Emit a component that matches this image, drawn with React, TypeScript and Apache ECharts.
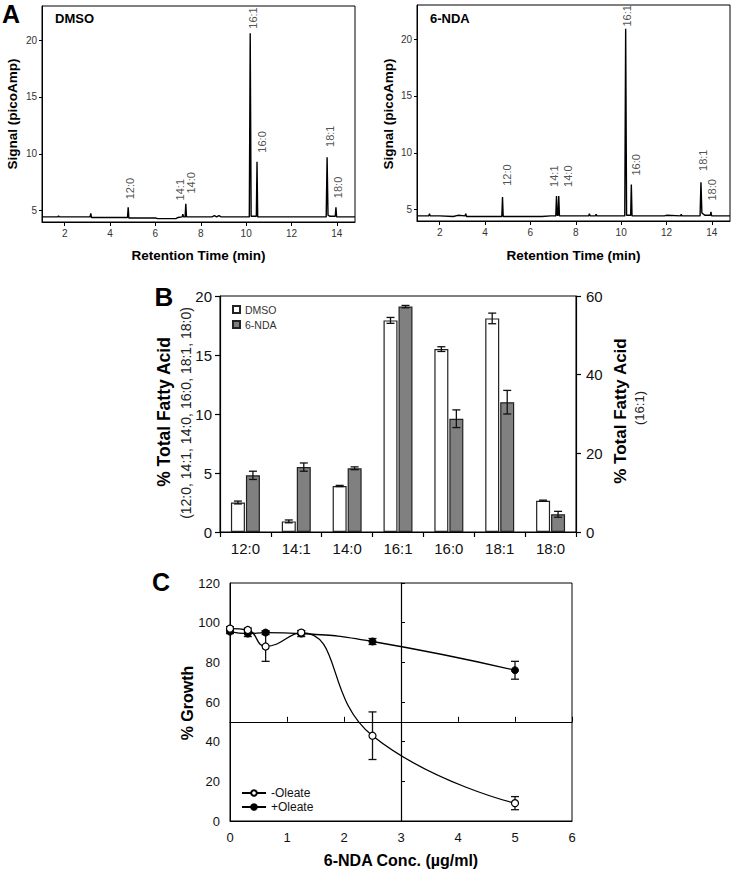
import React, { useEffect, useRef } from 'react';
import * as echarts from 'echarts';

const FONT = '"Liberation Sans", Arial, Helvetica, sans-serif';

// ---------- Panel A: GC chromatograms [retention time (min), signal (picoAmp)] ----------
const dmsoTrace: number[][] = [
  [1.0, 4.45], [1.7, 4.45], [1.73, 4.55], [1.76, 4.45], [3.12, 4.45], [3.15, 4.75], [3.18, 4.4],
  [4.77, 4.4], [4.8, 5.3], [4.83, 4.35], [6.0, 4.35], [6.1, 4.3], [6.9, 4.3], [7.0, 4.4],
  [7.18, 4.45], [7.21, 4.7], [7.24, 4.45], [7.31, 4.45], [7.34, 5.6], [7.37, 4.45],
  [8.5, 4.45], [8.6, 4.55], [8.7, 4.45], [8.8, 4.55], [8.9, 4.45], [10.14, 4.45],
  [10.18, 20.6], [10.22, 4.5], [10.45, 4.5], [10.48, 9.3], [10.51, 4.45], [13.53, 4.45],
  [13.57, 9.7], [13.61, 4.6], [13.7, 4.5], [13.93, 4.5], [13.96, 5.3], [13.99, 4.45], [14.8, 4.45],
];
const ndaTrace: number[][] = [
  [1.0, 4.45], [1.52, 4.45], [1.55, 4.65], [1.58, 4.45], [2.0, 4.45], [2.6, 4.4], [2.8, 4.5],
  [3.12, 4.45], [3.15, 4.65], [3.18, 4.4], [4.74, 4.4], [4.77, 6.1], [4.8, 4.4], [6.5, 4.4],
  [6.9, 4.45], [7.12, 4.45], [7.15, 6.2], [7.18, 4.5], [7.22, 4.5], [7.25, 6.2], [7.28, 4.45],
  [8.57, 4.45], [8.6, 4.65], [8.63, 4.45], [8.87, 4.45], [8.9, 4.6], [8.93, 4.45],
  [10.16, 4.45], [10.2, 20.9], [10.24, 4.5], [10.42, 4.5], [10.45, 7.2], [10.48, 4.45],
  [11.9, 4.45], [12.0, 4.5], [12.62, 4.45], [12.65, 4.6], [12.68, 4.45], [13.48, 4.45],
  [13.52, 7.4], [13.56, 4.7], [13.7, 4.5], [13.93, 4.5], [13.96, 4.8], [13.99, 4.45], [14.8, 4.45],
];
const peakNames = ['12:0', '14:1', '14:0', '16:1', '16:0', '18:1', '18:0'];
const dmsoLabelPos: number[][] = [[4.9, 6.0], [7.1, 5.9], [7.55, 6.5], [10.3, 21.0], [10.7, 10.1], [13.7, 10.6], [14.05, 6.1]];
const ndaLabelPos: number[][] = [[4.95, 7.1], [7.05, 7.0], [7.65, 7.0], [10.25, 21.1], [10.65, 8.0], [13.6, 8.4], [14.0, 5.8]];
const timeTicks = [2, 4, 6, 8, 10, 12, 14];
const signalTicks = [5, 10, 15, 20];

// ---------- Panel B: % total fatty acid ----------
const fattyAcids = ['12:0', '14:1', '14:0', '16:1', '16:0', '18:1', '18:0'];
// left-axis values (16:1 read on the right axis, below)
const dmsoPct = [2.5, 0.9, 3.9, null, 15.5, 18.1, 2.65];
const dmsoErr = [0.12, 0.12, 0.05, null, 0.2, 0.45, 0.05];
const ndaPct = [4.8, 5.5, 5.4, null, 9.6, 11.0, 1.5];
const ndaErr = [0.35, 0.35, 0.12, null, 0.75, 1.0, 0.25];
// 16:1 on the right axis (0-60)
const dmso161 = 53.8;
const dmso161Err = 0.75;
const nda161 = 57.3;
const nda161Err = 0.3;

// ---------- Panel C: % growth ----------
const conc = [0, 0.3125, 0.625, 1.25, 2.5, 5];
const minusOleate = [97, 96.3, 88, 95, 43, 9];
const minusOleateErr = [1, 1, 7.5, 1, 12, 3.3];
const plusOleate = [95.5, 94.5, 95, 94.5, 90.5, 76];
const plusOleateErr = [1, 1.5, 1, 1.5, 1.5, 4.5];

const RIGHT_TO_LEFT = 20 / 60;

function errRender(offsetPx: number, cap: number) {
  return (params: any, api: any) => {
    const x = api.value(0);
    const y = api.value(1);
    const e = api.value(2);
    const top = api.coord([x, y + e]);
    const bot = api.coord([x, y - e]);
    const cx = top[0] + offsetPx;
    const st = { stroke: '#111', lineWidth: 1.3 };
    return {
      type: 'group',
      children: [
        { type: 'line', shape: { x1: cx, y1: top[1], x2: cx, y2: bot[1] }, style: st },
        { type: 'line', shape: { x1: cx - cap, y1: top[1], x2: cx + cap, y2: top[1] }, style: st },
        { type: 'line', shape: { x1: cx - cap, y1: bot[1], x2: cx + cap, y2: bot[1] }, style: st },
      ],
    };
  };
}

export default function App() {
  const ref = useRef<HTMLDivElement>(null);

  useEffect(() => {
    document.body.style.margin = '0';
    if (!ref.current) return;
    const chart = echarts.init(ref.current, undefined, { renderer: 'svg' });

    const axisCol = '#000';
    const lblSmall = { fontSize: 10, color: '#333', fontFamily: FONT };

    const aX = (gi: number) => ({
      gridIndex: gi, type: 'value', min: 1, max: 14.8,
      axisLine: { show: true, onZero: false, lineStyle: { color: axisCol, width: 1 } },
      axisTick: { show: true, length: 4, customValues: timeTicks, lineStyle: { color: axisCol } },
      axisLabel: { ...lblSmall, margin: 6, customValues: timeTicks },
      splitLine: { show: false },
    });
    const aY = (gi: number) => ({
      gridIndex: gi, type: 'value', min: 4, max: 23,
      axisLine: { show: true, onZero: false, lineStyle: { color: axisCol, width: 1 } },
      axisTick: { show: true, length: 3, customValues: signalTicks, lineStyle: { color: axisCol } },
      axisLabel: { ...lblSmall, margin: 5, customValues: signalTicks },
      splitLine: { show: false },
    });

    const barDmso = dmsoPct.map((v, i) => (i === 3 ? dmso161 * RIGHT_TO_LEFT : v));
    const barNda = ndaPct.map((v, i) => (i === 3 ? nda161 * RIGHT_TO_LEFT : v));
    const errDmso = dmsoPct.map((v, i) =>
      i === 3 ? [i, dmso161 * RIGHT_TO_LEFT, dmso161Err * RIGHT_TO_LEFT] : [i, v as number, dmsoErr[i] as number]);
    const errNda = ndaPct.map((v, i) =>
      i === 3 ? [i, nda161 * RIGHT_TO_LEFT, nda161Err * RIGHT_TO_LEFT] : [i, v as number, ndaErr[i] as number]);

    const bLabel = { fontSize: 15, color: '#111', fontFamily: FONT };
    const cLabel = { fontSize: 13, color: '#111', fontFamily: FONT };

    const peakLabelSeries = (xi: number, pos: number[][]) => ({
      type: 'scatter', xAxisIndex: xi, yAxisIndex: xi, symbolSize: 0, silent: true, z: 5,
      data: pos.map((p, i) => ({ value: p, name: peakNames[i] })),
      label: {
        show: true, formatter: '{b}', rotate: 90, position: 'inside', align: 'left', verticalAlign: 'middle',
        fontSize: 11, color: '#222', fontFamily: FONT,
      },
    });

    const text = (t: string, x: number, y: number, size: number, bold: boolean, rot = 0, color = '#000') => ({
      type: 'text', x, y, rotation: rot, silent: true,
      style: {
        text: t, fontSize: size, fontWeight: bold ? 'bold' : 'normal', fontFamily: FONT, fill: color,
        align: 'center', verticalAlign: 'middle',
      },
    });
    const R = Math.PI / 2;

    const option: any = {
      animation: false,
      textStyle: { fontFamily: FONT },
      grid: [
        { left: 42, top: 6, width: 313, height: 216, show: true, borderColor: '#000', borderWidth: 1, containLabel: false },
        { left: 417, top: 5, width: 313, height: 216, show: true, borderColor: '#000', borderWidth: 1, containLabel: false },
        { left: 220, top: 296, width: 356, height: 236, show: true, borderColor: '#000', borderWidth: 1, containLabel: false },
        { left: 230, top: 583, width: 342, height: 238, show: true, borderColor: '#000', borderWidth: 1, containLabel: false },
      ],
      xAxis: [
        aX(0),
        aX(1),
        {
          gridIndex: 2, type: 'category', data: fattyAcids,
          axisLine: { show: true, lineStyle: { color: axisCol, width: 1.2 } },
          axisTick: { show: true, length: 5, alignWithLabel: false, lineStyle: { color: axisCol, width: 1.2 } },
          axisLabel: { ...bLabel, margin: 9 },
        },
        {
          gridIndex: 3, type: 'value', min: 0, max: 6, interval: 1,
          axisLine: { show: true, lineStyle: { color: axisCol } },
          axisTick: { show: false },
          axisLabel: { ...cLabel, margin: 10 },
          splitLine: { show: false },
        },
        {
          gridIndex: 3, type: 'value', min: 0, max: 6, interval: 1,
          axisLine: { show: true, onZero: true, onZeroAxisIndex: 5, lineStyle: { color: axisCol, width: 1.2 } },
          axisTick: { show: true, length: 5, lineStyle: { color: axisCol } },
          axisLabel: { show: false },
          splitLine: { show: false },
        },
        { gridIndex: 3, type: 'value', min: -3, max: 3, show: false, splitLine: { show: false } },
      ],
      yAxis: [
        aY(0),
        aY(1),
        {
          gridIndex: 2, type: 'value', min: 0, max: 20, interval: 5,
          axisLine: { show: true, lineStyle: { color: axisCol, width: 1.2 } },
          axisTick: { show: true, length: 5, lineStyle: { color: axisCol, width: 1.2 } },
          axisLabel: { ...bLabel, margin: 8 },
          splitLine: { show: false },
        },
        {
          gridIndex: 2, type: 'value', position: 'right', min: 0, max: 60, interval: 20,
          axisLine: { show: true, lineStyle: { color: axisCol, width: 1.2 } },
          axisTick: { show: true, length: 5, lineStyle: { color: axisCol, width: 1.2 } },
          axisLabel: { ...bLabel, margin: 10 },
          splitLine: { show: false },
        },
        {
          gridIndex: 3, type: 'value', min: 0, max: 120, interval: 20,
          axisLine: { show: true, lineStyle: { color: axisCol } },
          axisTick: { show: false },
          axisLabel: { ...cLabel, margin: 10 },
          splitLine: { show: false },
        },
        { gridIndex: 3, type: 'value', min: -50, max: 70, show: false, splitLine: { show: false } },
        {
          gridIndex: 3, type: 'value', min: 0, max: 120, interval: 20,
          axisLine: { show: true, onZero: true, onZeroAxisIndex: 5, lineStyle: { color: axisCol, width: 1.2 } },
          axisTick: { show: true, length: 4, lineStyle: { color: axisCol } },
          axisLabel: { show: false },
          splitLine: { show: false },
        },
      ],
      legend: [
        {
          data: ['DMSO', '6-NDA'], orient: 'vertical', left: 232, top: 304, itemWidth: 7, itemHeight: 7,
          itemGap: 4, icon: 'rect', textStyle: { fontSize: 10.5, color: '#333', fontFamily: FONT }, padding: 0,
        },
        {
          data: ['-Oleate', '+Oleate'], orient: 'vertical', left: 241, top: 787, itemWidth: 24, itemHeight: 7,
          itemGap: 2, textStyle: { fontSize: 12, color: '#111', fontFamily: FONT }, padding: 0,
        },
      ],
      series: [
        // Panel A
        {
          type: 'line', xAxisIndex: 0, yAxisIndex: 0, data: dmsoTrace, showSymbol: false, silent: true,
          lineStyle: { color: '#000', width: 1.4 }, clip: true,
        },
        {
          type: 'line', xAxisIndex: 1, yAxisIndex: 1, data: ndaTrace, showSymbol: false, silent: true,
          lineStyle: { color: '#000', width: 1.4 }, clip: true,
        },
        peakLabelSeries(0, dmsoLabelPos),
        peakLabelSeries(1, ndaLabelPos),
        // Panel B
        {
          name: 'DMSO', type: 'bar', xAxisIndex: 2, yAxisIndex: 2, data: barDmso, barWidth: 14, barGap: '7%',
          itemStyle: { color: '#fff', borderColor: '#222', borderWidth: 1.2 }, silent: true,
        },
        {
          name: '6-NDA', type: 'bar', xAxisIndex: 2, yAxisIndex: 2, data: barNda, barWidth: 14, barGap: '7%',
          itemStyle: { color: '#808080', borderColor: '#222', borderWidth: 1.2 }, silent: true,
        },
        {
          type: 'custom', xAxisIndex: 2, yAxisIndex: 2, data: errDmso, renderItem: errRender(-7.5, 4), z: 10, silent: true,
        },
        {
          type: 'custom', xAxisIndex: 2, yAxisIndex: 2, data: errNda, renderItem: errRender(7.5, 4), z: 10, silent: true,
        },
        // Panel C
        {
          name: '+Oleate', type: 'line', xAxisIndex: 3, yAxisIndex: 4, smooth: 0.5,
          data: conc.map((c, i) => [c, plusOleate[i]]),
          symbol: 'circle', symbolSize: 7, lineStyle: { color: '#000', width: 1.3 },
          itemStyle: { color: '#000', borderColor: '#000', borderWidth: 1 }, z: 4, silent: true,
        },
        {
          name: '-Oleate', type: 'line', xAxisIndex: 3, yAxisIndex: 4, smooth: 0.5,
          data: conc.map((c, i) => [c, minusOleate[i]]),
          symbol: 'circle', symbolSize: 7, lineStyle: { color: '#000', width: 1.3 },
          itemStyle: { color: '#fff', borderColor: '#000', borderWidth: 1.2 }, z: 5, silent: true,
        },
        {
          type: 'custom', xAxisIndex: 3, yAxisIndex: 4, data: conc.map((c, i) => [c, plusOleate[i], plusOleateErr[i]]),
          renderItem: errRender(0, 4), z: 3, silent: true,
        },
        {
          type: 'custom', xAxisIndex: 3, yAxisIndex: 4, data: conc.map((c, i) => [c, minusOleate[i], minusOleateErr[i]]),
          renderItem: errRender(0, 4), z: 3, silent: true,
        },
      ],
      graphic: [
        text('A', 11, 14, 25, true),
        { type: 'text', x: 55, y: 18.5, silent: true, style: { text: 'DMSO', fontSize: 13, fontWeight: 'bold', fontFamily: FONT, fill: '#000', align: 'left', verticalAlign: 'middle' } },
        { type: 'text', x: 430, y: 18.5, silent: true, style: { text: '6-NDA', fontSize: 13, fontWeight: 'bold', fontFamily: FONT, fill: '#000', align: 'left', verticalAlign: 'middle' } },
        text('Signal (picoAmp)', 12, 114, 13.5, true, R),
        text('Signal (picoAmp)', 388.5, 114, 13.5, true, R),
        text('Retention Time (min)', 198.5, 255.5, 13.5, true),
        text('Retention Time (min)', 573.5, 255.5, 13.5, true),
        text('B', 164, 297, 26, true),
        text('% Total Fatty Acid', 164, 412, 17.5, true, R),
        text('(12:0, 14:1, 14:0, 16:0, 18:1, 18:0)', 186, 413, 14, false, R, '#222'),
        text('% Total Fatty Acid', 620, 411, 17, true, R),
        text('(16:1)', 639, 408, 13, false, R, '#222'),
        text('C', 161, 582, 25, true),
        text('% Growth', 187, 703, 16, true, R),
        text('6-NDA Conc. (\u00b5g/ml)', 401, 860, 16, true),
      ],
    };

    chart.setOption(option);
    return () => chart.dispose();
  }, []);

  return <div ref={ref} style={{ width: 733, height: 871 }} />;
}
